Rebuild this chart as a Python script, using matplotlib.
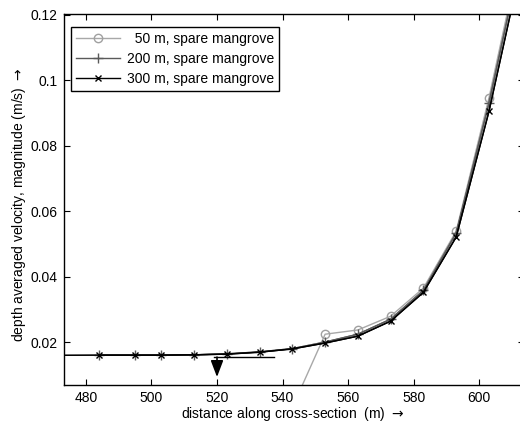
import matplotlib
matplotlib.use("Agg")
import matplotlib.pyplot as plt
import numpy as np

# ---- data ----
x_all = [463, 484, 495, 503, 513, 523, 533, 543, 553, 563, 573, 583, 593, 603, 613]
v_300 = [0.0159, 0.0160, 0.0160, 0.0160, 0.0161, 0.0163, 0.0169, 0.0179, 0.0197, 0.0218, 0.0264, 0.0352, 0.0521, 0.0905, 0.136]
v_200 = [0.0159, 0.0160, 0.0160, 0.0160, 0.0161, 0.0164, 0.0170, 0.0180, 0.0200, 0.0224, 0.0270, 0.0358, 0.0533, 0.0930, 0.139]
x_50 = [533, 543, 553, 563, 573, 583, 593, 603, 613]
v_50 = [0.0, 0.0, 0.0224, 0.0237, 0.0279, 0.0365, 0.0539, 0.0946, 0.141]

labels = ["  50 m, spare mangrove", "200 m, spare mangrove", "300 m, spare mangrove"]
xticks = [480, 500, 520, 540, 560, 580, 600]
yticks = [0.02, 0.04, 0.06, 0.08, 0.1, 0.12]
yticklabels = ["0.02", "0.04", "0.06", "0.08", "0.1", "0.12"]

# annotation (bank line and arrow)
ann_y = 0.0154
ann_x0, ann_x1 = 519.0, 537.5
arrow_x, arrow_tip_y = 520.0, 0.0093

plt.rcParams['font.family'] = ['Liberation Sans', 'DejaVu Sans']
plt.rcParams['font.size'] = 10
plt.rcParams['mathtext.fontset'] = 'dejavusans'

W, H = 520, 423
fig = plt.figure(figsize=(W / 100, H / 100), dpi=100)
left_px, right_px, top_px, bot_px = 64, 524, 14, 385
ax = fig.add_axes([left_px / W, 1 - bot_px / H, (right_px - left_px) / W, (bot_px - top_px) / H])

ax.plot(x_50, v_50, color='#a8a8a8', lw=1.0, marker='o', ms=6, mfc='none', mec='#a0a0a0', mew=1.0, label=labels[0])
ax.plot(x_all[1:], v_200[1:], color='#5a5a5a', lw=1.0, marker='+', ms=7, mew=1.0, label=labels[1])
ax.plot(x_all, v_200, color='#5a5a5a', lw=1.0)
ax.plot(x_all[1:], v_300[1:], color='black', lw=1.0, marker='x', ms=5, mew=1.0, label=labels[2])
ax.plot(x_all, v_300, color='black', lw=1.0)

# bank-line annotation
ax.plot([ann_x0, ann_x1], [ann_y, ann_y], color='black', lw=1.0)
ax.annotate('', xy=(arrow_x, arrow_tip_y), xytext=(arrow_x, ann_y),
            arrowprops=dict(arrowstyle='-|>,head_length=1.0,head_width=0.38', color='black', lw=1.2,
                            shrinkA=0, shrinkB=0))

ax.set_xlim(473.3, 613.7)
ax.set_ylim(0.00687, 0.1203)
ax.set_xticks(xticks)
ax.set_yticks(yticks)
ax.set_yticklabels(yticklabels)
ax.tick_params(direction='in', length=4, width=0.8, top=True, right=True, labelsize=10, pad=4.5)
for s in ax.spines.values():
    s.set_linewidth(1.0)

ax.set_xlabel(r'distance along cross-section  (m) $\rightarrow$', fontsize=10)
ax.set_ylabel(r'depth averaged velocity, magnitude (m/s) $\rightarrow$', fontsize=10)
ax.xaxis.set_label_coords((293 - left_px) / (right_px - left_px), -(405 - bot_px) / (bot_px - top_px))
ax.yaxis.set_label_coords(-(64 - 28) / (right_px - left_px), 0.484)

leg = ax.legend(loc='upper left', bbox_to_anchor=(7 / (right_px - left_px), 1 - 13 / (bot_px - top_px)),
                frameon=True, fancybox=False, edgecolor='black', framealpha=1,
                borderpad=0.35, labelspacing=0.43, handlelength=3.2, handletextpad=0.45,
                borderaxespad=0, fontsize=10)
leg.get_frame().set_linewidth(1.0)

fig.savefig('out.png', dpi=100)
